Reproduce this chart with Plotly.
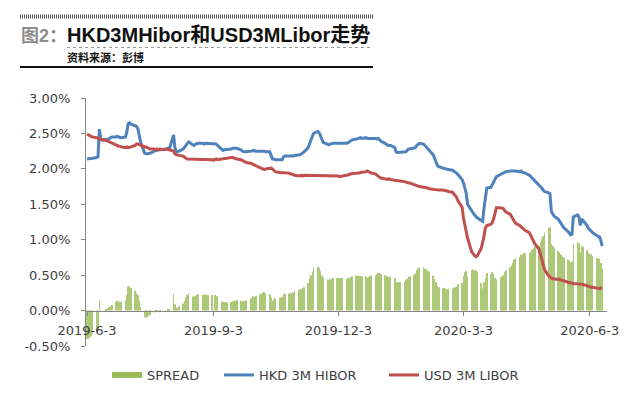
import pandas as pd
import plotly.graph_objects as go

# ---------------- data (business days 2019-06-03 .. 2020-06-12), one row per week ----------------
START_DATE = "2019-06-03"
END_DATE = "2020-06-12"

hkd_3m_hibor = [
    2.14, 2.14, 2.15, 2.15, 2.15,
    2.16, 2.17, 2.56, 2.41, 2.41,
    2.41, 2.41, 2.42, 2.44, 2.45,
    2.45, 2.46, 2.45, 2.44, 2.44,
    2.45, 2.52, 2.64, 2.65, 2.63,
    2.61, 2.60, 2.57, 2.48, 2.38,
    2.22, 2.21, 2.21, 2.22, 2.22,
    2.25, 2.26, 2.27, 2.27, 2.27,
    2.27, 2.27, 2.28, 2.29, 2.28,
    2.48, 2.30, 2.24, 2.24, 2.25,
    2.28, 2.30, 2.33, 2.36, 2.38,
    2.34, 2.33, 2.35, 2.36, 2.36,
    2.36, 2.35, 2.36, 2.36, 2.35,
    2.35, 2.36, 2.35, 2.35, 2.33,
    2.27, 2.26, 2.27, 2.27, 2.27,
    2.28, 2.29, 2.29, 2.29, 2.29,
    2.27, 2.25, 2.24, 2.24, 2.24,
    2.25, 2.25, 2.26, 2.25, 2.25,
    2.25, 2.25, 2.26, 2.25, 2.24,
    2.24, 2.19, 2.14, 2.14, 2.13,
    2.13, 2.13, 2.13, 2.17, 2.18,
    2.18, 2.18, 2.17, 2.18, 2.19,
    2.19, 2.20, 2.21, 2.22, 2.24,
    2.30, 2.36, 2.41, 2.46, 2.50,
    2.53, 2.51, 2.46, 2.40, 2.37,
    2.35, 2.34, 2.35, 2.36, 2.36,
    2.36, 2.36, 2.35, 2.36, 2.36,
    2.36, 2.37, 2.38, 2.40, 2.41,
    2.42, 2.43, 2.43, 2.44, 2.43,
    2.44, 2.43, 2.43, 2.44, 2.43,
    2.43, 2.42, 2.43, 2.41, 2.39,
    2.36, 2.34, 2.33, 2.33, 2.33,
    2.30, 2.24, 2.23, 2.23, 2.23,
    2.23, 2.24, 2.26, 2.28, 2.28,
    2.29, 2.30, 2.33, 2.35, 2.36,
    2.35, 2.33, 2.31, 2.29, 2.26,
    2.20, 2.15, 2.10, 2.05, 2.03,
    2.01, 2.01, 2.00, 1.99, 1.99,
    1.98, 1.97, 1.96, 1.94, 1.92,
    1.85, 1.80, 1.74, 1.66, 1.50,
    1.40, 1.38, 1.35, 1.33, 1.31,
    1.27, 1.26, 1.45, 1.63, 1.73,
    1.74, 1.78, 1.82, 1.86, 1.89,
    1.92, 1.93, 1.94, 1.95, 1.96,
    1.97, 1.97, 1.97, 1.98, 1.97,
    1.96, 1.97, 1.95, 1.95, 1.94,
    1.91, 1.89, 1.88, 1.86, 1.84,
    1.78, 1.76, 1.73, 1.70, 1.68,
    1.66, 1.65, 1.40, 1.36, 1.33,
    1.29, 1.26, 1.22, 1.19, 1.17,
    1.12, 1.09, 1.07, 1.08, 1.32,
    1.35, 1.33, 1.20, 1.29, 1.27,
    1.20, 1.16, 1.14, 1.12, 1.10,
    1.06, 1.05, 1.04, 0.99, 0.91,
]

usd_3m_libor = [
    2.49, 2.48, 2.47, 2.46, 2.45,
    2.44, 2.43, 2.43, 2.42, 2.41,
    2.40, 2.39, 2.38, 2.37, 2.36,
    2.34, 2.32, 2.32, 2.32, 2.31,
    2.30, 2.31, 2.30, 2.30, 2.31,
    2.33, 2.35, 2.35, 2.34, 2.33,
    2.31, 2.31, 2.30, 2.29, 2.28,
    2.28, 2.27, 2.28, 2.27, 2.28,
    2.27, 2.28, 2.28, 2.27, 2.27,
    2.25, 2.21, 2.20, 2.20, 2.19,
    2.18, 2.16, 2.15, 2.14, 2.14,
    2.14, 2.13, 2.14, 2.14, 2.13,
    2.14, 2.13, 2.13, 2.14, 2.13,
    2.13, 2.12, 2.13, 2.14, 2.13,
    2.14, 2.14, 2.15, 2.15, 2.16,
    2.16, 2.16, 2.15, 2.15, 2.14,
    2.13, 2.12, 2.11, 2.10, 2.09,
    2.08, 2.07, 2.06, 2.05, 2.04,
    2.02, 2.01, 2.00, 1.99, 2.00,
    2.01, 2.01, 2.00, 1.98, 1.96,
    1.95, 1.95, 1.94, 1.94, 1.94,
    1.94, 1.93, 1.93, 1.92, 1.91,
    1.90, 1.90, 1.91, 1.90, 1.91,
    1.91, 1.90, 1.91, 1.91, 1.90,
    1.91, 1.91, 1.90, 1.91, 1.91,
    1.91, 1.90, 1.91, 1.91, 1.90,
    1.90, 1.90, 1.89, 1.90, 1.90,
    1.91, 1.91, 1.92, 1.93, 1.93,
    1.93, 1.94, 1.94, 1.95, 1.95,
    1.96, 1.97, 1.96, 1.95, 1.94,
    1.93, 1.91, 1.90, 1.88, 1.87,
    1.86, 1.85, 1.85, 1.86, 1.85,
    1.84, 1.84, 1.83, 1.83, 1.83,
    1.82, 1.81, 1.81, 1.80, 1.80,
    1.78, 1.77, 1.76, 1.75, 1.75,
    1.74, 1.74, 1.73, 1.73, 1.72,
    1.71, 1.70, 1.70, 1.70, 1.70,
    1.70, 1.69, 1.69, 1.69, 1.68,
    1.67, 1.65, 1.63, 1.60, 1.55,
    1.46, 1.31, 1.20, 1.10, 1.02,
    0.83, 0.80, 0.78, 0.76, 0.77,
    0.88, 0.95, 1.05, 1.17, 1.20,
    1.22, 1.24, 1.30, 1.40, 1.45,
    1.45, 1.45, 1.44, 1.41, 1.39,
    1.36, 1.33, 1.30, 1.26, 1.23,
    1.20, 1.18, 1.16, 1.14, 1.13,
    1.10, 1.06, 1.02, 0.98, 0.94,
    0.87, 0.80, 0.72, 0.65, 0.58,
    0.49, 0.47, 0.46, 0.45, 0.45,
    0.45, 0.44, 0.43, 0.43, 0.42,
    0.40, 0.39, 0.39, 0.39, 0.38,
    0.38, 0.38, 0.38, 0.37, 0.37,
    0.35, 0.34, 0.34, 0.33, 0.33,
    0.32, 0.31, 0.31, 0.32, 0.32,
]

spread = [
    -0.40, -0.41, -0.38, -0.36, -0.33,
    -0.30, -0.28, 0.15, 0.00, 0.00,
    0.02, 0.03, 0.05, 0.06, 0.08,
    0.12, 0.14, 0.13, 0.12, 0.13,
    0.15, 0.22, 0.34, 0.35, 0.32,
    0.28, 0.25, 0.22, 0.14, 0.05,
    -0.09, -0.10, -0.09, -0.07, -0.06,
    -0.03, -0.01, -0.01, 0.00, -0.01,
    0.00, -0.01, 0.00, 0.02, 0.01,
    0.23, 0.09, 0.04, 0.04, 0.06,
    0.10, 0.14, 0.18, 0.22, 0.24,
    0.20, 0.20, 0.21, 0.22, 0.23,
    0.22, 0.22, 0.23, 0.22, 0.22,
    0.22, -0.05, 0.22, 0.21, 0.20,
    0.13, 0.12, 0.12, 0.12, 0.11,
    0.12, 0.13, 0.14, 0.14, 0.15,
    0.14, 0.13, 0.13, 0.14, 0.15,
    0.17, 0.18, 0.20, 0.20, 0.21,
    0.23, 0.24, 0.26, 0.26, 0.24,
    0.23, 0.18, 0.14, 0.16, 0.17,
    0.18, 0.18, 0.19, 0.23, 0.24,
    0.24, 0.25, 0.24, 0.26, 0.28,
    0.29, 0.30, 0.30, 0.32, 0.33,
    0.39, 0.46, 0.50, 0.55, 0.60,
    0.62, 0.60, 0.56, 0.49, 0.46,
    0.44, 0.44, 0.44, 0.45, 0.46,
    0.46, 0.46, 0.46, 0.46, 0.46,
    0.45, 0.46, 0.46, 0.47, 0.48,
    0.49, 0.49, 0.49, 0.49, 0.48,
    0.48, 0.46, 0.47, 0.49, 0.49,
    0.50, 0.51, 0.53, 0.53, 0.52,
    0.50, 0.49, 0.48, 0.47, 0.48,
    0.46, 0.40, 0.40, 0.40, 0.40,
    0.41, 0.43, 0.45, 0.48, 0.48,
    0.51, 0.53, 0.57, 0.60, 0.61,
    0.61, 0.59, 0.58, 0.56, 0.54,
    0.49, 0.45, 0.40, 0.35, 0.33,
    0.31, 0.32, 0.31, 0.30, 0.31,
    0.31, 0.32, 0.33, 0.34, 0.37,
    0.39, 0.49, 0.54, 0.56, 0.48,
    0.57, 0.58, 0.57, 0.57, 0.54,
    0.39, 0.31, 0.40, 0.46, 0.53,
    0.52, 0.54, 0.52, 0.46, 0.44,
    0.47, 0.48, 0.50, 0.54, 0.57,
    0.61, 0.64, 0.67, 0.72, 0.74,
    0.76, 0.79, 0.79, 0.81, 0.81,
    0.81, 0.83, 0.86, 0.88, 0.90,
    0.91, 0.96, 1.01, 1.05, 1.10,
    1.17, 1.18, 0.94, 0.91, 0.88,
    0.84, 0.82, 0.79, 0.76, 0.75,
    0.72, 0.70, 0.68, 0.69, 0.94,
    0.97, 0.95, 0.82, 0.92, 0.90,
    0.85, 0.82, 0.80, 0.79, 0.77,
    0.74, 0.74, 0.73, 0.67, 0.59,
]

x_tick_dates = ["2019-06-03", "2019-09-03", "2019-12-03", "2020-03-03", "2020-06-03"]
x_tick_labels = ["2019-6-3", "2019-9-3", "2019-12-3", "2020-3-3", "2020-6-3"]
y_tick_values = [-0.5, 0.0, 0.5, 1.0, 1.5, 2.0, 2.5, 3.0]
y_tick_labels = ["-0.50%", "0.00%", "0.50%", "1.00%", "1.50%", "2.00%", "2.50%", "3.00%"]

series_names = ["SPREAD", "HKD 3M HIBOR", "USD 3M LIBOR"]
title_prefix = "图2："
title_main = "HKD3MHibor和USD3MLibor走势"
source_text = "资料来源：彭博"

dates = pd.bdate_range(START_DATE, END_DATE)
assert len(dates) == len(hkd_3m_hibor) == len(usd_3m_libor) == len(spread)

# ---------------- styling / layout ----------------
# The page body has an 8px default margin, so figure coords = screen coords - OFF.
OFF = 8
W, H = 640, 399
PLOT_L, PLOT_R, PLOT_T, PLOT_B = 86, 607, 98, 346          # target screen pixels
ML, MT = PLOT_L - OFF, PLOT_T - OFF
MR, MB = W - (PLOT_R - OFF), H - (PLOT_B - OFF)
PW, PH = PLOT_R - PLOT_L, PLOT_B - PLOT_T
Y_MIN, Y_MAX = -0.5, 3.0

def px(x):
    return (x - PLOT_L) / PW

def py(y):
    return (PLOT_B - y) / PH

GREEN, BLUE, RED = "#9BBB59", "#4F81BD", "#C0504D"
AXIS = "#868686"
TXT = "#404040"
FONT = "DejaVu Sans, Noto Sans CJK SC"

fig = go.Figure()
fig.add_trace(go.Bar(x=dates, y=spread, name=series_names[0], marker_color=GREEN,
                     marker_line_width=0, opacity=0.8, showlegend=False))
fig.add_trace(go.Scatter(x=[None], y=[None], mode="lines", name=series_names[0],
                         line=dict(color=GREEN, width=6), legend="legend"))
fig.add_trace(go.Scatter(x=dates, y=hkd_3m_hibor, mode="lines", name=series_names[1],
                         line=dict(color=BLUE, width=3), legend="legend2"))
fig.add_trace(go.Scatter(x=dates, y=usd_3m_libor, mode="lines", name=series_names[2],
                         line=dict(color=RED, width=3), legend="legend3"))

zero_pos = (0 - Y_MIN) / (Y_MAX - Y_MIN)

def legend_at(sym_x):
    return dict(orientation="h", x=px(sym_x - 6), xanchor="left", y=py(375), yanchor="middle",
                font=dict(family=FONT, size=13, color=TXT), bgcolor="rgba(0,0,0,0)")

fig.update_layout(
    width=W, height=H,
    margin=dict(l=ML, r=MR, t=MT, b=MB, pad=0, autoexpand=False),
    paper_bgcolor="white", plot_bgcolor="white",
    font=dict(family=FONT, size=13, color=TXT),
    bargap=0.55,
    showlegend=True,
    legend=legend_at(113),
    legend2=legend_at(225),
    legend3=legend_at(390),
    xaxis=dict(type="date", range=["2019-06-02 06:30", "2020-06-15 12:00"],
               anchor="free", position=zero_pos,
               tickvals=x_tick_dates, ticktext=x_tick_labels,
               ticks="outside", ticklen=4, tickcolor=AXIS, ticklabelstandoff=4,
               showline=True, linecolor=AXIS, linewidth=1,
               showgrid=False, zeroline=False,
               tickfont=dict(family=FONT, size=13, color=TXT)),
    yaxis=dict(range=[Y_MIN, Y_MAX], tickvals=y_tick_values, ticktext=y_tick_labels,
               ticks="outside", ticklen=4, tickcolor=AXIS, ticklabelstandoff=8,
               showline=True, linecolor=AXIS, linewidth=1,
               showgrid=False, zeroline=False,
               tickfont=dict(family=FONT, size=13, color=TXT)),
)

# header decorations
fig.add_shape(type="line", xref="paper", yref="paper", x0=px(20), x1=px(373), y0=py(16.5), y1=py(16.5),
              line=dict(color="#555555", width=4, dash="1px,1px"))
fig.add_shape(type="line", xref="paper", yref="paper", x0=px(67), x1=px(370), y0=py(47.5), y1=py(47.5),
              line=dict(color="#999999", width=1, dash="dot"))
fig.add_shape(type="line", xref="paper", yref="paper", x0=px(20), x1=px(373), y0=py(67), y1=py(67),
              line=dict(color="#111111", width=2))

fig.add_annotation(xref="paper", yref="paper", x=px(20), y=py(35), xanchor="left", yanchor="middle",
                   text=("<b><span style='color:#8c8c8c;font-size:18px'>" + title_prefix + "</span>"
                         + title_main + "</b>"),
                   showarrow=False, borderpad=0,
                   font=dict(family="Liberation Sans, Noto Sans CJK SC", size=20, color="#111111"))
fig.add_annotation(xref="paper", yref="paper", x=px(66), y=py(57), xanchor="left", yanchor="middle",
                   text="<b>" + source_text + "</b>", showarrow=False, borderpad=0,
                   font=dict(family="Noto Sans CJK SC", size=11, color="#111111"))

fig.write_html("out.html")
